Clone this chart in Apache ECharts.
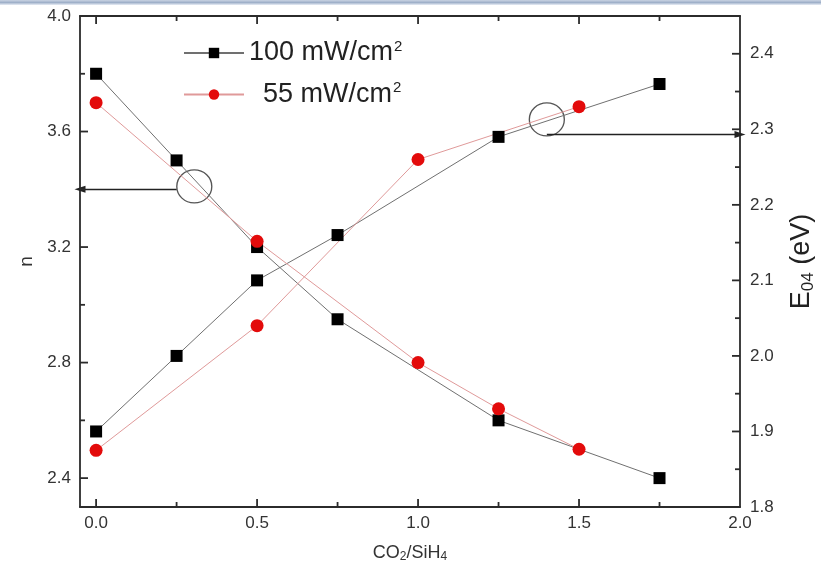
<!DOCTYPE html>
<html>
<head>
<meta charset="utf-8">
<title>n and E04 vs CO2/SiH4</title>
<script src="https://cdn.jsdelivr.net/npm/echarts@6/dist/echarts.min.js"></script>
<style>
  html, body { margin: 0; padding: 0; background: #fff; }
  #chart { width: 821px; height: 574px; }
</style>
</head>
<body>
<div id="chart"></div>
<script>
// CO2/SiH4 gas ratio for each deposition power
const ratio100 = [0, 0.25, 0.5, 0.75, 1.25, 1.75];
const ratio55 = [0, 0.5, 1.0, 1.25, 1.5];
const ratio55Gap = [0, 0.5, 1.0, 1.5];

// refractive index n
const n100 = [3.80, 3.50, 3.20, 2.95, 2.60, 2.40];
const n55 = [3.70, 3.22, 2.80, 2.64, 2.50];

// optical gap E04 (eV)
const e100 = [1.90, 2.00, 2.10, 2.16, 2.29, 2.36];
const e55 = [1.875, 2.04, 2.26, 2.33];

// axis ranges
const xRange = [-0.05, 2.0];
const nRange = [2.3, 4.0];
const eRange = [1.8, 2.45];

// tick labels
const xLabels = [0, 0.5, 1.0, 1.5, 2.0];
const nLabels = [2.4, 2.8, 3.2, 3.6, 4.0];
const eLabels = [1.8, 1.9, 2.0, 2.1, 2.2, 2.3, 2.4];

// tick marks (major / minor)
const xMajor = [0, 0.5, 1.0, 1.5];
const xMinor = [0.25, 0.75, 1.25, 1.75];
const nMajor = [2.4, 2.8, 3.2, 3.6];
const nMinor = [2.6, 3.0, 3.4, 3.8];
const eMajor = [1.9, 2.0, 2.1, 2.2, 2.3, 2.4];
const eMinor = [1.85, 1.95, 2.05, 2.15, 2.25, 2.35];

// ring + arrow callouts telling which curve belongs to which axis
const nRing = [0.305, 3.41];
const nArrow = [[0.25, 3.40], [-0.05, 3.40]];
const eRing = [1.40, 2.313];
const eArrow = [[1.40, 2.293], [2.0, 2.293]];

const series100 = '100 mW/cm2';
const series55 = '55 mW/cm2';

const FONT = "'Liberation Sans', Arial, sans-serif";
const AXIS_COLOR = '#2b2b2b';
const TEXT_COLOR = '#333';
const MAJOR_LEN = 8;
const MINOR_LEN = 5;

const zip = (xs, ys) => xs.map((x, i) => [x, ys[i]]);

function frameAxis(extra) {
  return Object.assign({
    type: 'value',
    splitLine: { show: false },
    axisLine: { show: true, onZero: false, lineStyle: { color: AXIS_COLOR, width: 1.8 } },
    axisTick: { show: false },
    axisLabel: { show: false }
  }, extra);
}

function tickLabel(values, margin) {
  return {
    show: true,
    customValues: values,
    formatter: v => Number(v).toFixed(1),
    fontSize: 17,
    fontFamily: FONT,
    color: TEXT_COLOR,
    margin: margin
  };
}

// inward tick marks of one length along one side of the frame, placed through the axis scales
function tickSeries(yAxisIndex, points, dir, len) {
  return {
    type: 'custom',
    xAxisIndex: 0,
    yAxisIndex: yAxisIndex,
    silent: true,
    clip: false,
    z: 10,
    data: points,
    renderItem: (params, api) => {
      const p = api.coord([api.value(0), api.value(1)]);
      return {
        type: 'line',
        shape: { x1: p[0], y1: p[1], x2: p[0] + dir[0] * len, y2: p[1] + dir[1] * len },
        style: { stroke: AXIS_COLOR, lineWidth: 1.8 }
      };
    }
  };
}

const onLeft = vs => vs.map(v => [xRange[0], v]);
const onRight = vs => vs.map(v => [xRange[1], v]);
const onBottom = vs => vs.map(v => [v, nRange[0]]);
const onTop = vs => vs.map(v => [v, nRange[1]]);

const chart = echarts.init(document.getElementById('chart'), null, { renderer: 'canvas' });

chart.setOption({
  animation: false,
  backgroundColor: '#fff',
  grid: { left: 80, right: 81, top: 16, bottom: 67, outerBoundsMode: 'none' },
  graphic: [{
    type: 'rect',
    left: 0, top: 0,
    shape: { width: 821, height: 5 },
    style: {
      fill: new echarts.graphic.LinearGradient(0, 0, 0, 1, [
        { offset: 0, color: '#c9d3e3' },
        { offset: 0.5, color: '#9fb0c9' },
        { offset: 1, color: '#e8edf5' }
      ])
    },
    silent: true
  }],
  legend: {
    orient: 'vertical',
    left: 183,
    top: 39,
    padding: 0,
    itemWidth: 60,
    itemHeight: 13,
    itemGap: 14,
    itemTextGap: 17,
    data: [series100, series55],
    formatter: name => name === series100 ? '{t|100 mW/cm}{s|2}' : '{u|55 mW/cm}{s|2}',
    textStyle: {
      fontFamily: FONT,
      color: '#222',
      rich: {
        t: { fontSize: 27, fontFamily: FONT, color: '#222', lineHeight: 28 },
        u: { fontSize: 27, fontFamily: FONT, color: '#222', lineHeight: 28, padding: [0, 0, 0, 14] },
        s: { fontSize: 15, fontFamily: FONT, color: '#222', verticalAlign: 'top', lineHeight: 28, padding: [0, 0, 12, 1] }
      }
    }
  },
  xAxis: [
    frameAxis({
      min: xRange[0], max: xRange[1], position: 'bottom',
      axisLabel: tickLabel(xLabels, 8),
      name: '{t|CO}{s|2}{t|/SiH}{s|4}',
      nameLocation: 'middle',
      nameGap: 36,
      nameTextStyle: {
        fontFamily: FONT, color: TEXT_COLOR,
        rich: {
          t: { fontSize: 18, fontFamily: FONT, color: TEXT_COLOR, lineHeight: 20 },
          s: { fontSize: 12, fontFamily: FONT, color: TEXT_COLOR, verticalAlign: 'bottom', lineHeight: 20, padding: [8, 0, 0, 0] }
        }
      }
    }),
    frameAxis({ min: xRange[0], max: xRange[1], position: 'top' })
  ],
  yAxis: [
    frameAxis({
      min: nRange[0], max: nRange[1], position: 'left',
      axisLabel: tickLabel(nLabels, 9),
      name: 'n',
      nameLocation: 'middle',
      nameRotate: 90,
      nameGap: 41,
      nameTextStyle: { fontSize: 19, fontFamily: FONT, color: TEXT_COLOR }
    }),
    frameAxis({
      min: eRange[0], max: eRange[1], position: 'right',
      axisLabel: tickLabel(eLabels, 10),
      name: '{t|E}{s|04}{t| (eV)}',
      nameLocation: 'middle',
      nameRotate: 90,
      nameGap: 47,
      nameTextStyle: {
        fontFamily: FONT, color: TEXT_COLOR,
        rich: {
          t: { fontSize: 27, fontFamily: FONT, color: '#222', lineHeight: 30 },
          s: { fontSize: 17, fontFamily: FONT, color: '#222', verticalAlign: 'bottom', lineHeight: 30, padding: [10, 0, 0, 0] }
        }
      }
    })
  ],
  series: [
    tickSeries(0, onLeft(nMajor), [1, 0], MAJOR_LEN),
    tickSeries(0, onLeft(nMinor), [1, 0], MINOR_LEN),
    tickSeries(1, onRight(eMajor), [-1, 0], MAJOR_LEN),
    tickSeries(1, onRight(eMinor), [-1, 0], MINOR_LEN),
    tickSeries(0, onBottom(xMajor), [0, -1], MAJOR_LEN),
    tickSeries(0, onBottom(xMinor), [0, -1], MINOR_LEN),
    tickSeries(0, onTop(xMajor), [0, 1], MAJOR_LEN),
    tickSeries(0, onTop(xMinor), [0, 1], MINOR_LEN),
    {
      name: series100, type: 'line', xAxisIndex: 0, yAxisIndex: 0,
      data: zip(ratio100, n100),
      symbol: 'rect', symbolSize: 12,
      lineStyle: { color: '#707070', width: 1 },
      itemStyle: { color: '#000' }
    },
    {
      name: series100, type: 'line', xAxisIndex: 0, yAxisIndex: 1,
      data: zip(ratio100, e100),
      symbol: 'rect', symbolSize: 12,
      lineStyle: { color: '#707070', width: 1 },
      itemStyle: { color: '#000' }
    },
    {
      name: series55, type: 'line', xAxisIndex: 0, yAxisIndex: 0,
      data: zip(ratio55, n55),
      symbol: 'circle', symbolSize: 13,
      lineStyle: { color: '#e09a9a', width: 1 },
      itemStyle: { color: '#e30b0b' }
    },
    {
      name: series55, type: 'line', xAxisIndex: 0, yAxisIndex: 1,
      data: zip(ratio55Gap, e55),
      symbol: 'circle', symbolSize: 13,
      lineStyle: { color: '#e09a9a', width: 1 },
      itemStyle: { color: '#e30b0b' }
    },
    {
      name: 'nCallout', type: 'scatter', xAxisIndex: 0, yAxisIndex: 0, silent: true,
      data: [nRing], symbol: 'circle', symbolSize: [35, 33],
      itemStyle: { color: 'rgba(0,0,0,0)', borderColor: '#2a2a2a', borderWidth: 1.3 },
      markLine: {
        silent: true, symbol: ['none', 'triangle'], symbolSize: [7, 11],
        label: { show: false },
        lineStyle: { color: '#222', width: 1.3, type: 'solid' },
        data: [[{ coord: nArrow[0] }, { coord: nArrow[1] }]]
      }
    },
    {
      name: 'eCallout', type: 'scatter', xAxisIndex: 0, yAxisIndex: 1, silent: true,
      data: [eRing], symbol: 'circle', symbolSize: [35, 33],
      itemStyle: { color: 'rgba(0,0,0,0)', borderColor: '#2a2a2a', borderWidth: 1.3 },
      markLine: {
        silent: true, symbol: ['none', 'triangle'], symbolSize: [7, 11],
        label: { show: false },
        lineStyle: { color: '#222', width: 1.3, type: 'solid' },
        data: [[{ coord: eArrow[0] }, { coord: eArrow[1] }]]
      }
    }
  ]
});
</script>
</body>
</html>
